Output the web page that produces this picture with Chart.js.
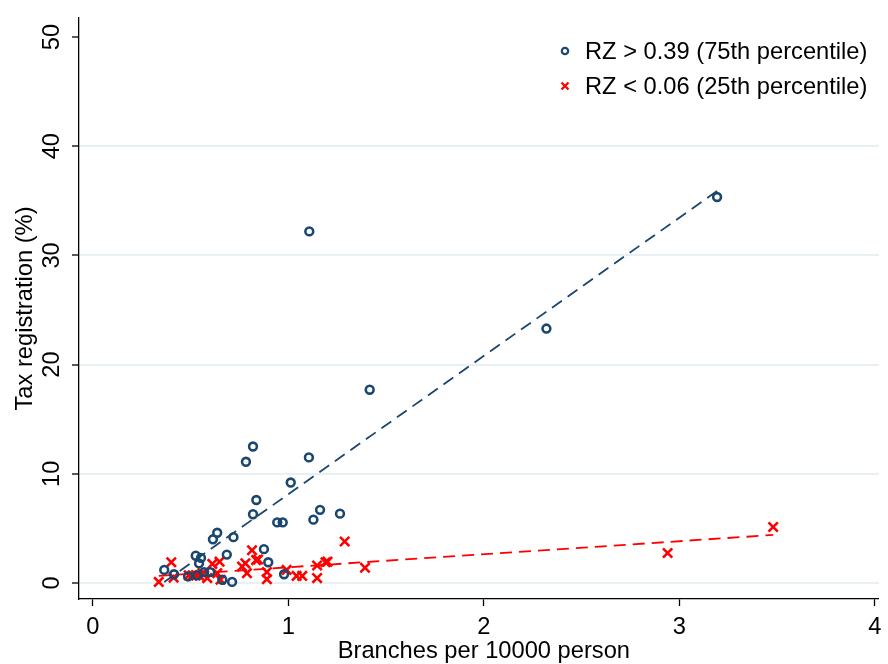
<!DOCTYPE html>
<html>
<head>
<meta charset="utf-8">
<script src="https://cdn.jsdelivr.net/npm/chart.js@4.4.0/dist/chart.umd.min.js"></script>
<style>body{margin:0;background:#fff}</style>
</head>
<body>
<canvas id="scatter-chart" width="888" height="664"></canvas>
<script>
// tick labels
var xTicks = [0, 1, 2, 3, 4];
var yTicks = [0, 10, 20, 30, 40, 50];

// RZ > 0.39 (75th percentile)
var highX = [0.365, 0.415, 0.487, 0.533, 0.526, 0.553, 0.543, 0.569, 0.600, 0.614, 0.636, 0.662, 0.685, 0.712, 0.719,
             0.783, 0.819, 0.819, 0.836, 0.875, 0.897, 0.943, 0.971, 0.978, 1.012, 1.105, 1.107, 1.128, 1.162, 1.264,
             1.416, 2.320, 3.193];
var highY = [1.2, 0.8, 0.6, 0.7, 2.5, 2.3, 1.8, 1.0, 1.0, 4.0, 4.6, 0.3, 2.6, 0.1, 4.2,
             11.1, 12.5, 6.3, 7.6, 3.1, 1.9, 5.55, 5.55, 0.8, 9.2, 11.5, 32.2, 5.8, 6.7, 6.35,
             17.7, 23.3, 35.35];

// RZ < 0.06 (25th percentile)
var lowX = [0.337, 0.401, 0.413, 0.490, 0.510, 0.527, 0.543, 0.560, 0.585, 0.611, 0.636, 0.648, 0.653, 0.763, 0.780,
            0.788, 0.814, 0.835, 0.845, 0.890, 0.890, 0.991, 1.042, 1.071, 1.147, 1.147, 1.190, 1.200, 1.288, 1.392,
            2.940, 3.480];
var lowY = [0.1, 1.9, 0.5, 0.7, 0.7, 0.7, 0.7, 0.9, 0.45, 1.75, 0.9, 1.95, 0.3, 1.5, 1.8,
            0.9, 3.0, 2.1, 2.15, 1.0, 0.35, 1.2, 0.65, 0.65, 1.6, 0.45, 1.9, 1.95, 3.8, 1.4,
            2.75, 5.13];

// fitted lines (end points)
var highFitX = [0.365, 3.193];
var highFitY = [0.1, 35.9];
var lowFitX = [0.337, 3.48];
var lowFitY = [0.65, 4.4];

var navy = '#1a476f';
var red = '#ff0000';
var FONT = '23.7px "Liberation Sans", Arial, sans-serif';

function toPoints(xs, ys) {
	var pts = [];
	for (var i = 0; i < xs.length; i++) pts.push({x: xs[i], y: ys[i]});
	return pts;
}

// tick labels, titles, legend drawn by hand (Stata look)
var stataText = {
	id: 'stataText',
	afterDraw: function(chart) {
		var ctx = chart.ctx, xs = chart.scales.x, ys = chart.scales.y, area = chart.chartArea;
		ctx.save();
		ctx.fillStyle = '#000';
		ctx.font = FONT;
		ctx.textAlign = 'center';
		ctx.textBaseline = 'middle';
		xTicks.forEach(function(v) {
			ctx.fillText(String(v), xs.getPixelForValue(v), 627);
		});
		yTicks.forEach(function(v) {
			ctx.save();
			ctx.translate(52, ys.getPixelForValue(v));
			ctx.rotate(-Math.PI / 2);
			ctx.fillText(String(v), 0, 0);
			ctx.restore();
		});
		ctx.fillText('Branches per 10000 person', (xs.getPixelForValue(0) + xs.getPixelForValue(4)) / 2, 651);
		ctx.save();
		ctx.translate(25, (area.top + area.bottom) / 2);
		ctx.rotate(-Math.PI / 2);
		ctx.fillText('Tax registration (%)', 0, 0);
		ctx.restore();

		// legend
		ctx.textAlign = 'left';
		ctx.fillText('RZ > 0.39 (75th percentile)', 585, 52);
		ctx.fillText('RZ < 0.06 (25th percentile)', 585, 87);
		ctx.lineWidth = 2.2;
		ctx.strokeStyle = navy;
		ctx.beginPath();
		ctx.arc(565, 51, 3.2, 0, Math.PI * 2);
		ctx.stroke();
		ctx.strokeStyle = red;
		ctx.lineWidth = 2.3;
		ctx.beginPath();
		ctx.moveTo(561.5, 82.5); ctx.lineTo(568.5, 89.5);
		ctx.moveTo(568.5, 82.5); ctx.lineTo(561.5, 89.5);
		ctx.stroke();
		ctx.restore();
	}
};

new Chart(document.getElementById('scatter-chart'), {
	type: 'scatter',
	data: {
		datasets: [
			{
				label: 'RZ > 0.39 (75th percentile)',
				data: toPoints(highX, highY),
				pointStyle: 'circle',
				pointRadius: 3.9,
				borderWidth: 2.6,
				borderColor: navy,
				backgroundColor: 'rgba(0,0,0,0)'
			},
			{
				label: 'RZ < 0.06 (25th percentile)',
				data: toPoints(lowX, lowY),
				pointStyle: 'crossRot',
				pointRadius: 6.6,
				borderWidth: 2.6,
				borderColor: red,
				backgroundColor: red
			},
			{
				type: 'line',
				label: 'fit high',
				data: toPoints(highFitX, highFitY),
				showLine: true,
				pointRadius: 0,
				borderColor: navy,
				borderWidth: 1.8,
				borderDash: [12, 7],
				fill: false
			},
			{
				type: 'line',
				label: 'fit low',
				data: toPoints(lowFitX, lowFitY),
				showLine: true,
				pointRadius: 0,
				borderColor: red,
				borderWidth: 1.8,
				borderDash: [12, 7],
				fill: false
			}
		]
	},
	options: {
		responsive: false,
		animation: false,
		devicePixelRatio: 1,
		events: [],
		layout: { padding: { top: 18, right: 3, left: 0, bottom: 0 } },
		plugins: { legend: { display: false }, tooltip: { enabled: false } },
		scales: {
			x: {
				type: 'linear',
				min: -14 / 197,
				max: 4 + 4 / 197,
				afterBuildTicks: function(s) { s.ticks = xTicks.map(function(v) { return {value: v}; }); },
				afterFit: function(s) { s.height = 65; },
				ticks: { display: false },
				grid: { drawOnChartArea: false, drawTicks: true, tickLength: 7, tickColor: '#000', tickWidth: 1.3 },
				border: { color: '#000', width: 1.3 }
			},
			y: {
				type: 'linear',
				min: -16 / 10.92,
				max: 50 + 19 / 10.92,
				afterBuildTicks: function(s) { s.ticks = yTicks.map(function(v) { return {value: v}; }); },
				afterFit: function(s) { s.width = 79; },
				ticks: { display: false },
				grid: {
					color: function(c) { return c.tick && c.tick.value === 50 ? 'rgba(0,0,0,0)' : '#e8f0f2'; },
					lineWidth: 2,
					drawTicks: true,
					tickLength: 7,
					tickColor: '#000',
					tickWidth: 1.3
				},
				border: { color: '#000', width: 1.3 }
			}
		}
	},
	plugins: [stataText]
});
</script>
</body>
</html>
